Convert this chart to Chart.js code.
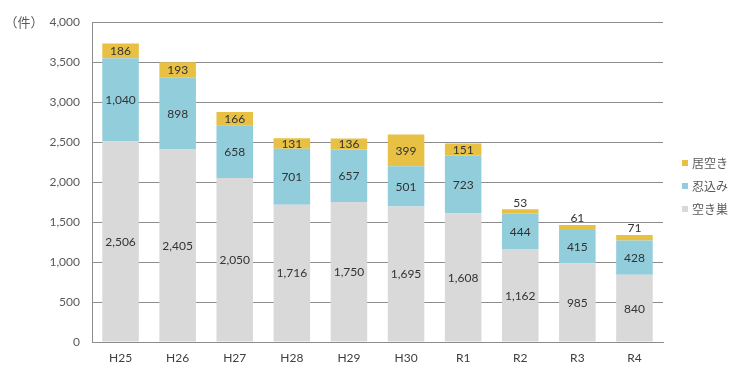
<!DOCTYPE html>
<html><head><meta charset="utf-8">
<script src="https://cdn.jsdelivr.net/npm/chart.js@4"></script>
<style>html,body{margin:0;padding:0;background:#fff}#wrap{width:740px;height:374px}</style>
</head><body><div id="wrap"><canvas id="c" width="740" height="374"></canvas></div>
<script>
const categories = ["H25","H26","H27","H28","H29","H30","R1","R2","R3","R4"];
const akisu = [2506,2405,2050,1716,1750,1695,1608,1162,985,840];
const shinobikomi = [1040,898,658,701,657,501,723,444,415,428];
const iaki = [186,193,166,131,136,399,151,53,61,71];
const yTicks = [0,500,1000,1500,2000,2500,3000,3500,4000];
const seriesNames = ["空き巣","忍込み","居空き"];
const unitLabel = "（件）";

const numFont = "Lato, 'Noto Sans', sans-serif";
const cjkFont = "'Noto Sans CJK JP', sans-serif";

const labelPlugin = {
  id: 'labels',
  afterDatasetsDraw(chart) {
    const ctx = chart.ctx;
    ctx.save();
    ctx.font = "12px " + numFont;
    ctx.fillStyle = "#333333";
    ctx.textAlign = "center";
    ctx.textBaseline = "middle";
    chart.data.datasets.forEach((ds, di) => {
      const meta = chart.getDatasetMeta(di);
      meta.data.forEach((bar, i) => {
        const v = ds.data[i];
        const txt = v.toLocaleString('en-US');
        const h = Math.abs(bar.base - bar.y);
        let y = (bar.y + bar.base) / 2;
        if (di === chart.data.datasets.length - 1 && h < 9) y = bar.y - 7;
        ctx.fillText(txt, bar.x, y + 0.5);
      });
    });
    ctx.restore();
  },
  afterDraw(chart) {
    const ctx = chart.ctx;
    const a = chart.chartArea;
    ctx.save();
    // unit label
    ctx.font = "13px " + cjkFont;
    ctx.fillStyle = "#595959";
    ctx.textAlign = "center";
    ctx.textBaseline = "middle";
    ctx.fillText(unitLabel, 24, a.top);
    // legend (reverse order)
    const n = chart.data.datasets.length;
    const cy = (a.top + a.bottom) / 2 + 4;
    ctx.font = "12px " + cjkFont;
    ctx.textAlign = "left";
    for (let k = 0; k < n; k++) {
      const di = n - 1 - k;
      const ds = chart.data.datasets[di];
      const y = cy + (k - 1) * 23;
      ctx.fillStyle = ds.backgroundColor;
      ctx.fillRect(a.right + 19, y - 3, 6, 6);
      ctx.fillStyle = "#595959";
      ctx.fillText(ds.label, a.right + 29, y);
    }
    ctx.restore();
  }
};

new Chart(document.getElementById('c'), {
  type: 'bar',
  data: {
    labels: categories,
    datasets: [
      {label: seriesNames[0], data: akisu, backgroundColor: "#D9D9D9"},
      {label: seriesNames[1], data: shinobikomi, backgroundColor: "#92CDDC"},
      {label: seriesNames[2], data: iaki, backgroundColor: "#E8C044"}
    ]
  },
  options: {
    responsive: false,
    animation: false,
    devicePixelRatio: 1,
    layout: {padding: {left: 0, right: 77, top: 22, bottom: 0}},
    datasets: {bar: {categoryPercentage: 1, barPercentage: 0.64}},
    plugins: {legend: {display: false}, tooltip: {enabled: false}},
    scales: {
      x: {
        stacked: true,
        grid: {display: false, drawTicks: false},
        border: {display: true, color: "#8C8C8C", width: 1},
        ticks: {color: "#404040", font: {family: numFont, size: 12}, padding: 9},
        afterFit(s) { s.height = 32; }
      },
      y: {
        stacked: true,
        min: 0, max: 4000,
        afterBuildTicks(s) { s.ticks = yTicks.map(v => ({value: v})); },
        grid: {color: "#8C8C8C", drawTicks: false, lineWidth: 1},
        border: {display: true, color: "#8C8C8C", width: 1},
        ticks: {color: "#595959", font: {family: numFont, size: 12}, padding: 12,
          callback: v => v.toLocaleString('en-US')},
        afterFit(s) { s.width = 92; }
      }
    }
  },
  plugins: [labelPlugin]
});
</script></body></html>
